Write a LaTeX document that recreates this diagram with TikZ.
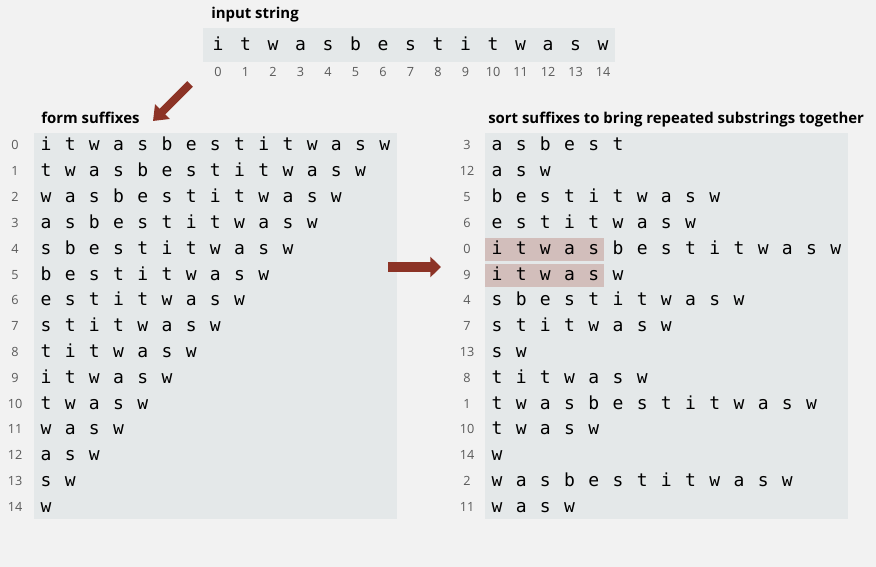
\documentclass[tikz,border=0pt]{standalone}
\usepackage{fontspec}
\setmainfont{Open Sans}
\newfontfamily\monofont{DejaVu Sans Mono}
\usetikzlibrary{arrows.meta}

\definecolor{bgcol}{HTML}{F2F2F2}
\definecolor{boxcol}{HTML}{E4E8E9}
\definecolor{hlcol}{HTML}{D2BEBB}
\definecolor{arrcol}{HTML}{8C3326}
\definecolor{idxcol}{HTML}{5A5A5A}

% places letters #3..#5 of the input string, one letter per node
\newcommand{\suffixrow}[5]{%
  \foreach \c [count=\k from 0] in {i,t,w,a,s,b,e,s,t,i,t,w,a,s,w} {
    \ifnum\k<#3\relax\else\ifnum\k>#5\relax\else
      \node[ch] (#1-\k) at ({#4+24.2*(\k-#3)}, {#2+6}) {\c};
    \fi\fi
  }}

\begin{document}
\begin{tikzpicture}[x=0.75pt, y=-0.75pt]
  \tikzset{ch/.style={anchor=base, inner sep=0pt, font=\monofont\fontsize{13.5}{14}\selectfont},
           idx/.style={anchor=base, inner sep=0pt, text=idxcol, font=\fontsize{9.5}{11}\selectfont},
           title/.style={anchor=base west, inner sep=0pt, font=\bfseries\fontsize{11.2}{13}\selectfont},
           bigarrow/.style={arrcol, -{Triangle[length=10pt, width=15pt]}}}
  \fill[bgcol] (0,0) rectangle (876,567);
  \useasboundingbox (0,0) rectangle (876,567);

  % input string
  \node[title] (intitle) at (211,19) {input string};
  \fill[boxcol] (203,28) rectangle (615,62);
  \foreach \c [count=\i from 0] in {i,t,w,a,s,b,e,s,t,i,t,w,a,s,w} {
    \node[ch] (in\i) at ({218+27.5*\i}, 51) {\c};
    \node[idx] (inidx\i) at ({218+27.5*\i}, 77) {\i};
  }

  % form suffixes
  \node[title] (lefttitle) at (41,123) {form suffixes};
  \fill[boxcol] (34,133) rectangle (397,519);
  \foreach \r in {0,...,14} {
    \node[idx] (li\r) at (15, {145+25.8*\r+5}) {\r};
    \suffixrow{l\r}{145+25.8*\r}{\r}{46}{14}
  }

  % sorted suffixes
  \node[title] (righttitle) at (488,123) {sort suffixes to bring repeated substrings together};
  \fill[boxcol] (485,133) rectangle (848,519);
  \fill[hlcol] (485,238) rectangle (604,261);
  \fill[hlcol] (485,264) rectangle (604,287);
  \foreach \s/\e [count=\j from 0] in {3/8,12/14,5/14,6/14,0/14,9/14,4/14,7/14,13/14,8/14,1/14,10/14,14/14,2/14,11/14} {
    \node[idx] (ri\j) at (467, {145+25.8*\j+5}) {\s};
    \suffixrow{r\j}{145+25.8*\j}{\s}{497}{\e}
  }

  % arrows
  \coordinate (a1s) at (190,84);
  \coordinate (a1e) at (153,121);
  \coordinate (a2s) at (388,267);
  \coordinate (a2e) at (441,267);
  \draw[bigarrow, line width=6pt] (a1s) -- (a1e);
  \draw[bigarrow, line width=8pt, -{Triangle[length=8pt, width=15pt]}] (a2s) -- (a2e);
\end{tikzpicture}
\end{document}
